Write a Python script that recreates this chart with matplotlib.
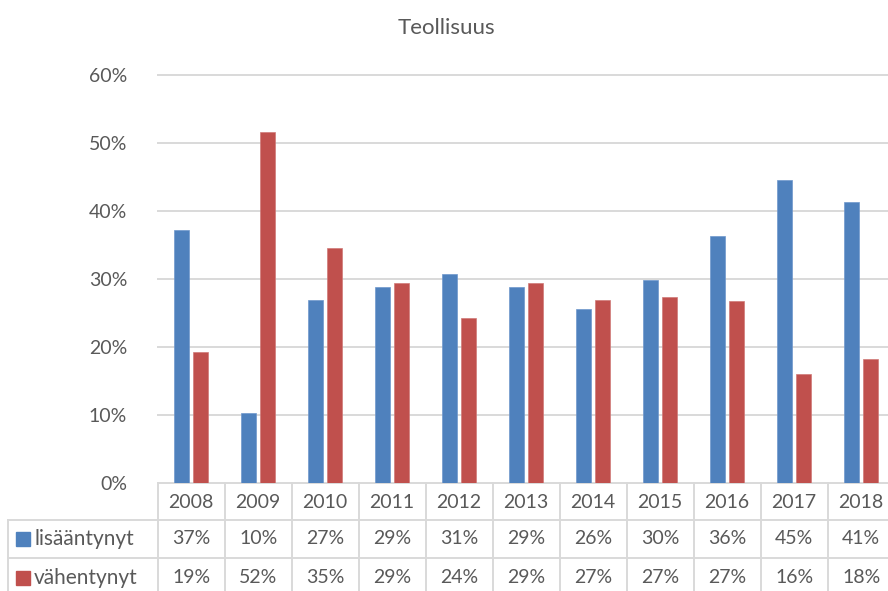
import numpy as np
import matplotlib.pyplot as plt

# data (percent)
years = ['2008', '2009', '2010', '2011', '2012', '2013', '2014', '2015', '2016', '2017', '2018']
lisaantynyt = [37.2, 10.3, 26.9, 28.8, 30.8, 28.8, 25.6, 29.9, 36.3, 44.6, 41.3]
vahentynyt = [19.3, 51.6, 34.6, 29.4, 24.2, 29.4, 26.9, 27.3, 26.8, 16.1, 18.2]
series_names = ['lisääntynyt', 'vähentynyt']
yticks = [0, 10, 20, 30, 40, 50, 60]

colors = ['#4f81bd', '#c0504d']
txt = '#595959'
gridc = '#d9d9d9'

plt.rcParams['font.family'] = ['Lato', 'DejaVu Sans']

W, H = 888, 591
fig = plt.figure(figsize=(W / 100, H / 100), dpi=100)

# main plot area (right edge runs a bit past the picture, as in the original)
left, bottom, cat_w = 157.7, 108, 67.0
ax = fig.add_axes([left / W, bottom / H, cat_w * len(years) / W, 408 / H])
x = np.arange(len(years))
bw, off = 0.224, 0.142
ax.bar(x - off, lisaantynyt, width=bw, color=colors[0], edgecolor='#6f97cc', linewidth=0.5, zorder=3)
ax.bar(x + off, vahentynyt, width=bw, color=colors[1], edgecolor='#d07a78', linewidth=0.5, zorder=3)
ax.set_xlim(-0.5, len(years) - 0.5)
ax.set_ylim(0, 60)
ax.set_yticks(yticks)
ax.set_yticklabels([f'{t}%' for t in yticks])
ax.set_xticks([])
ax.tick_params(axis='y', length=0, pad=22, labelsize=14, labelcolor=txt)
for s in ax.spines.values():
    s.set_visible(False)
ax.grid(axis='y', color=gridc, lw=1.4, zorder=0)
for gl in ax.get_ygridlines():
    gl.set_clip_on(False)

fig.text(446 / W, 1 - 28 / H, 'Teollisuus', ha='center', va='center', fontsize=16,
         fontweight='normal', color=txt)

# data table under the chart
tax = fig.add_axes([left / W, 0, cat_w * len(years) / W, bottom / H])
tax.set_xlim(-0.5, len(years) - 0.5)
tax.set_ylim(-bottom, 0)
tax.axis('off')


def px2x(px):
    return -0.5 + (px - left) / cat_w


row_lines = [-36.5, -75]
leg_left = px2x(8)
for y in row_lines:
    tax.plot([leg_left, len(years) - 0.5], [y, y], color=gridc, lw=1.4, clip_on=False)
for i in range(len(years) + 1):
    tax.plot([i - 0.5, i - 0.5], [0, -bottom], color=gridc, lw=1.4, clip_on=False)
tax.plot([leg_left, leg_left], [row_lines[0], -bottom], color=gridc, lw=1.4, clip_on=False)

for i, yr in enumerate(years):
    tax.text(i, -19.5, yr, ha='center', va='center', fontsize=14, color=txt, clip_on=False)

row_y = [-56, -94.5]
for vals, name, col, yy in zip([lisaantynyt, vahentynyt], series_names, colors, row_y):
    tax.plot(px2x(23), yy, 's', ms=10, color=col, clip_on=False)
    tax.text(px2x(34), yy, name, ha='left', va='center', fontsize=15, color=txt, clip_on=False)
    for i, v in enumerate(vals):
        tax.text(i, yy, f'{v:.0f}%', ha='center', va='center', fontsize=14, color=txt, clip_on=False)

fig.savefig('out.png', dpi=100)
